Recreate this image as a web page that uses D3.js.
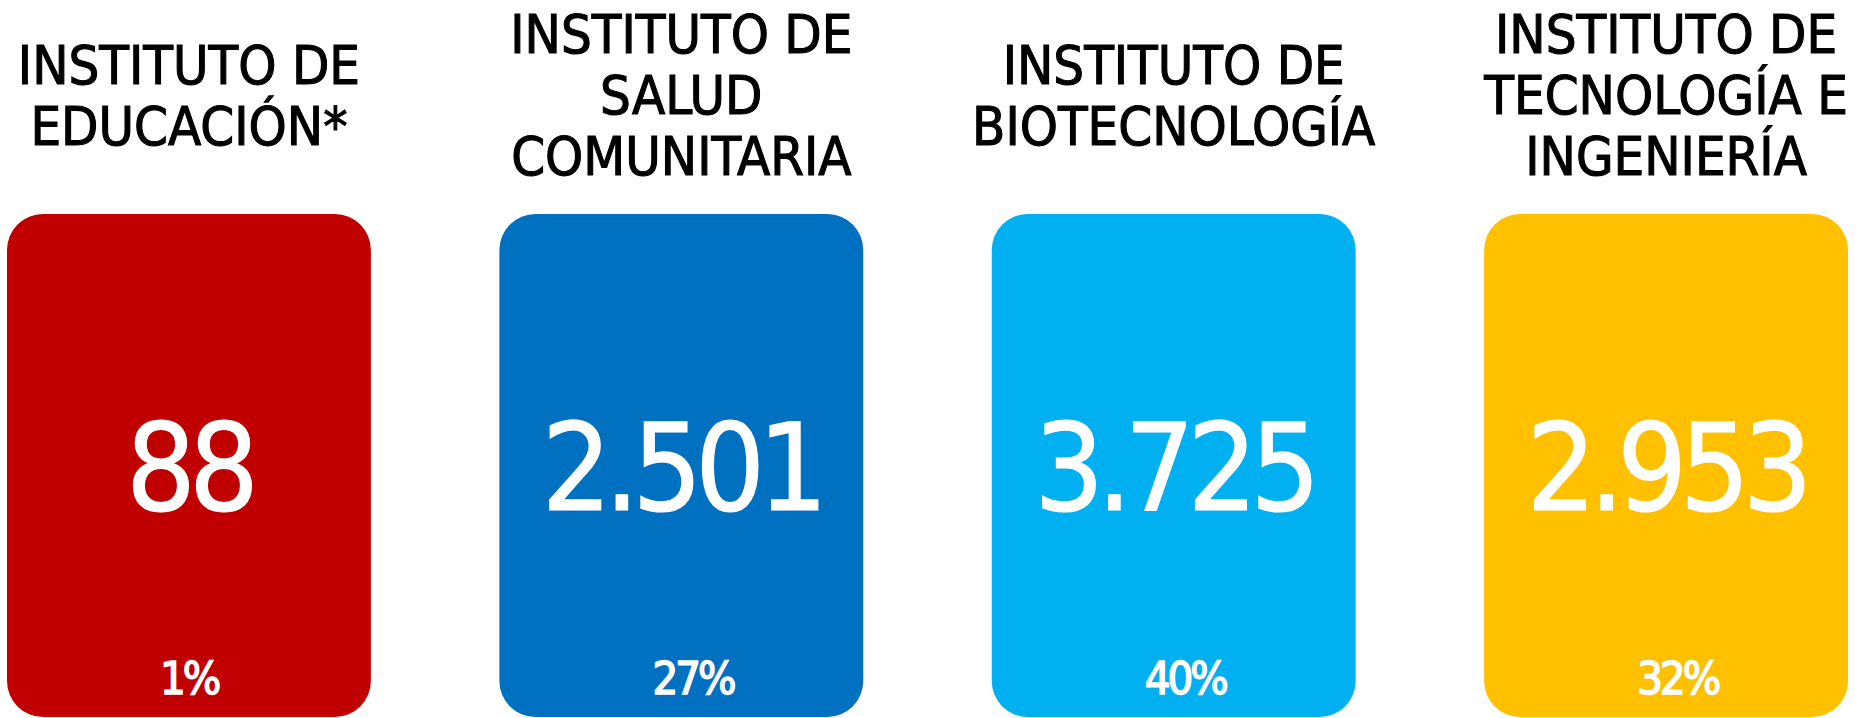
<!DOCTYPE html>
<html>
<head>
<meta charset="utf-8">
<script src="https://cdn.jsdelivr.net/npm/d3@7"></script>
<style>
  html, body { margin: 0; padding: 0; background: #ffffff; }
  svg { display: block; }
  text { font-family: "DejaVu Sans Condensed", "DejaVu Sans", sans-serif; font-stretch: condensed; }
</style>
</head>
<body>
<svg id="chart" width="1858" height="718"></svg>
<script>
// ---- data ----
const titleLines = [
  ["INSTITUTO DE", "EDUCACIÓN*"],
  ["INSTITUTO DE", "SALUD", "COMUNITARIA"],
  ["INSTITUTO DE", "BIOTECNOLOGÍA"],
  ["INSTITUTO DE", "TECNOLOGÍA E", "INGENIERÍA"]
];
const values = [88, 2501, 3725, 2953];
const shares = [1, 27, 40, 32];
const colors = ["#C00000", "#0070C0", "#00B0F0", "#FFC000"];

// ---- layout ----
const svg = d3.select("#chart");

const x = d3.scaleBand()
  .domain(d3.range(values.length))
  .range([7, 1848])
  .paddingInner(0.261)
  .paddingOuter(0);

const locale = d3.formatLocale({ decimal: ",", thousands: ".", grouping: [3], currency: ["", ""] });
const fmt = locale.format(",d");

const cardTop = 214, cardBottom = 717, radius = 36;
const titleMid = 94, lineGap = 61, titleCap = 40;
const shareInset = 153;

const g = svg.selectAll("g.card")
  .data(values.map((v, i) => ({ v, i, share: shares[i], lines: titleLines[i], color: colors[i] })))
  .join("g")
  .attr("class", "card")
  .attr("transform", d => `translate(${x(d.i) + x.bandwidth() / 2},0)`);

g.append("rect")
  .attr("x", -x.bandwidth() / 2)
  .attr("y", cardTop)
  .attr("width", x.bandwidth())
  .attr("height", cardBottom - cardTop)
  .attr("rx", radius)
  .attr("ry", radius)
  .attr("fill", d => d.color);

// titles
g.each(function(d) {
  const n = d.lines.length;
  d3.select(this).selectAll("text.title")
    .data(d.lines)
    .join("text")
    .attr("class", "title")
    .attr("text-anchor", "middle")
    .attr("x", 0)
    .attr("y", (t, j) => titleMid + (j - (n - 1) / 2) * lineGap + titleCap / 2)
    .attr("font-size", 54)
    .attr("fill", "#000000")
    .attr("stroke", "#000000")
    .attr("stroke-width", 1.1)
    .text(t => t);
});

// big numbers
g.append("text")
  .attr("text-anchor", "middle")
  .attr("x", 0)
  .attr("y", 510)
  .attr("font-size", 122)
  .attr("letter-spacing", -7)
  .attr("fill", "#ffffff")
  .attr("stroke", "#ffffff")
  .attr("stroke-width", 1.2)
  .text(d => fmt(d.v));

// shares
g.append("text")
  .attr("text-anchor", "start")
  .attr("x", -x.bandwidth() / 2 + shareInset)
  .attr("y", 694)
  .attr("font-size", 45)
  .attr("letter-spacing", -3)
  .attr("fill", "#ffffff")
  .attr("stroke", "#ffffff")
  .attr("stroke-width", 1.5)
  .text(d => d.share + "%");
</script>
</body>
</html>
